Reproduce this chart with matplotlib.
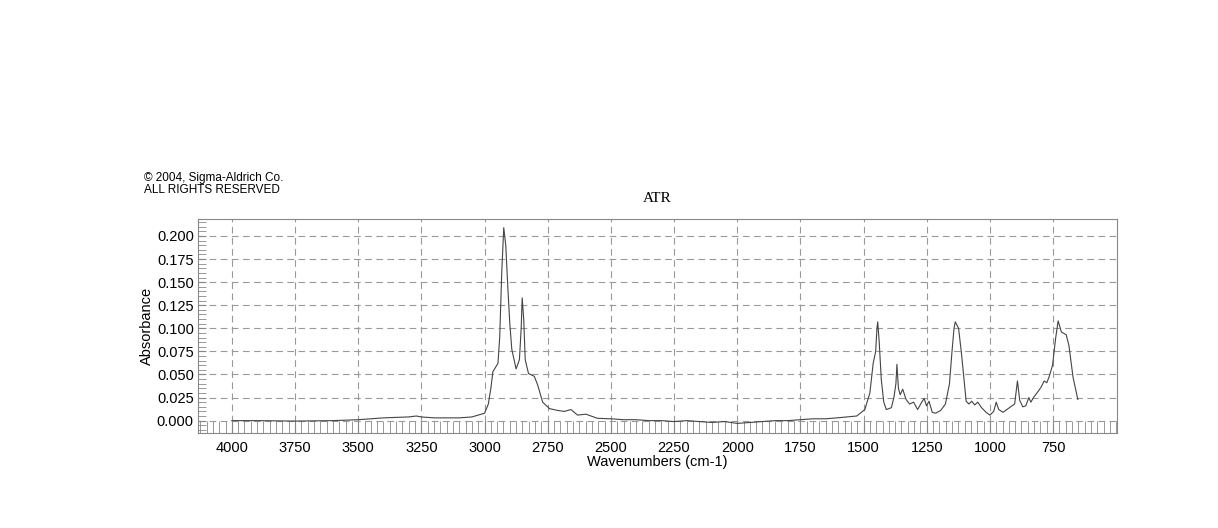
import matplotlib
matplotlib.use('Agg')
import matplotlib.pyplot as plt
from matplotlib.ticker import MultipleLocator

# spectrum (wavenumber, absorbance)
wavenumber = [4000, 3900, 3750, 3600, 3500, 3400, 3300, 3270, 3250, 3200, 3100, 3050,
              3000, 2985, 2975, 2967, 2954, 2947, 2940, 2932, 2924, 2916, 2908, 2900, 2892, 2875, 2862,
              2855, 2851, 2845, 2839, 2826, 2803, 2789, 2770, 2743, 2710, 2684, 2658, 2632, 2599,
              2553, 2500, 2450, 2400, 2350, 2300, 2250, 2200, 2150, 2100, 2050, 2000,
              1950, 1900, 1850, 1800, 1750, 1700, 1650, 1605, 1527, 1495, 1475, 1462,
              1452, 1447, 1444, 1438, 1430, 1420, 1410, 1390, 1380, 1372, 1368, 1362, 1355, 1345, 1332, 1318,
              1302, 1286, 1270, 1260, 1251, 1241, 1228, 1215, 1195, 1176, 1160, 1150, 1142,
              1137, 1124, 1113, 1104, 1094, 1083, 1072, 1060, 1048, 1033, 1015, 1000,
              985, 975, 965, 948, 928, 902, 891, 882, 870, 858, 846, 838, 825, 811,
              798, 785, 775, 765, 752, 740, 730, 717, 698, 687, 671, 652]
absorbance = [0.000, 0.000, -0.0005, 0.000, 0.001, 0.003, 0.004, 0.005, 0.004, 0.003, 0.003, 0.004,
              0.008, 0.018, 0.035, 0.053, 0.059, 0.062, 0.090, 0.160, 0.209, 0.190, 0.145, 0.105, 0.077, 0.056, 0.066,
              0.100, 0.133, 0.110, 0.066, 0.051, 0.048, 0.038, 0.020, 0.013, 0.011, 0.010, 0.012, 0.006, 0.007,
              0.0025, 0.002, 0.001, 0.001, 0.000, 0.000, -0.001, 0.000, -0.001, -0.002, -0.001, -0.003,
              -0.002, -0.001, 0.000, 0.000, 0.001, 0.002, 0.002, 0.003, 0.005, 0.012, 0.030, 0.062,
              0.075, 0.100, 0.107, 0.085, 0.045, 0.020, 0.012, 0.014, 0.025, 0.040, 0.061, 0.035, 0.028, 0.034, 0.023, 0.018,
              0.020, 0.012, 0.020, 0.024, 0.016, 0.021, 0.009, 0.008, 0.011, 0.018, 0.040, 0.075, 0.100,
              0.107, 0.100, 0.074, 0.049, 0.021, 0.018, 0.021, 0.017, 0.020, 0.014, 0.009, 0.006,
              0.010, 0.020, 0.012, 0.009, 0.013, 0.018, 0.043, 0.022, 0.015, 0.016, 0.025, 0.020,
              0.026, 0.031, 0.036, 0.043, 0.041, 0.048, 0.060, 0.089, 0.108, 0.096, 0.093, 0.081,
              0.047, 0.023]
y_ticks = [0.000, 0.025, 0.050, 0.075, 0.100, 0.125, 0.150, 0.175, 0.200]
x_ticks = [4000, 3750, 3500, 3250, 3000, 2750, 2500, 2250, 2000, 1750, 1500, 1250, 1000, 750]

plt.rcParams['font.family'] = ['Liberation Sans', 'DejaVu Sans']
fig = plt.figure(figsize=(12.18, 5.28), dpi=100)
ax = fig.add_axes([198 / 1218, 1 - 433 / 528, 919 / 1218, 214 / 528])

ax.plot(wavenumber, absorbance, color='#444444', lw=0.8)
ax.set_xlim(4134, 497)
ax.set_ylim(-0.0134, 0.2184)
ax.set_xticks(x_ticks)
ax.set_yticks(y_ticks)
ax.set_yticklabels(['%.3f' % v for v in y_ticks])
ax.xaxis.set_minor_locator(MultipleLocator(25))
ax.yaxis.set_minor_locator(MultipleLocator(0.005))
ax.grid(True, which='major', color='#999999', ls=(0, (6, 4)), lw=0.8)
ax.tick_params(which='both', direction='in', top=False, right=False, labelsize=10.5)
ax.tick_params(axis='x', which='minor', length=9, color='#888888')
ax.tick_params(axis='x', which='major', length=9, color='#888888', pad=6)
ax.tick_params(axis='y', which='both', length=6, color='#888888', pad=3)
for s in ax.spines.values():
    s.set_color('#888888')

ax.set_xlabel('Wavenumbers (cm-1)', fontsize=10.5, labelpad=0)
ax.set_ylabel('Absorbance', fontsize=10.5, labelpad=2)
ax.set_title('ATR', fontsize=11, family='Liberation Serif', pad=12)
fig.text(144 / 1218, 1 - 178 / 528, '\u00a9 2004, Sigma-Aldrich Co.', fontsize=8.5, va='center')
fig.text(144 / 1218, 1 - 190 / 528, 'ALL RIGHTS RESERVED', fontsize=8.5, va='center')

fig.savefig('out.png', dpi=100)
